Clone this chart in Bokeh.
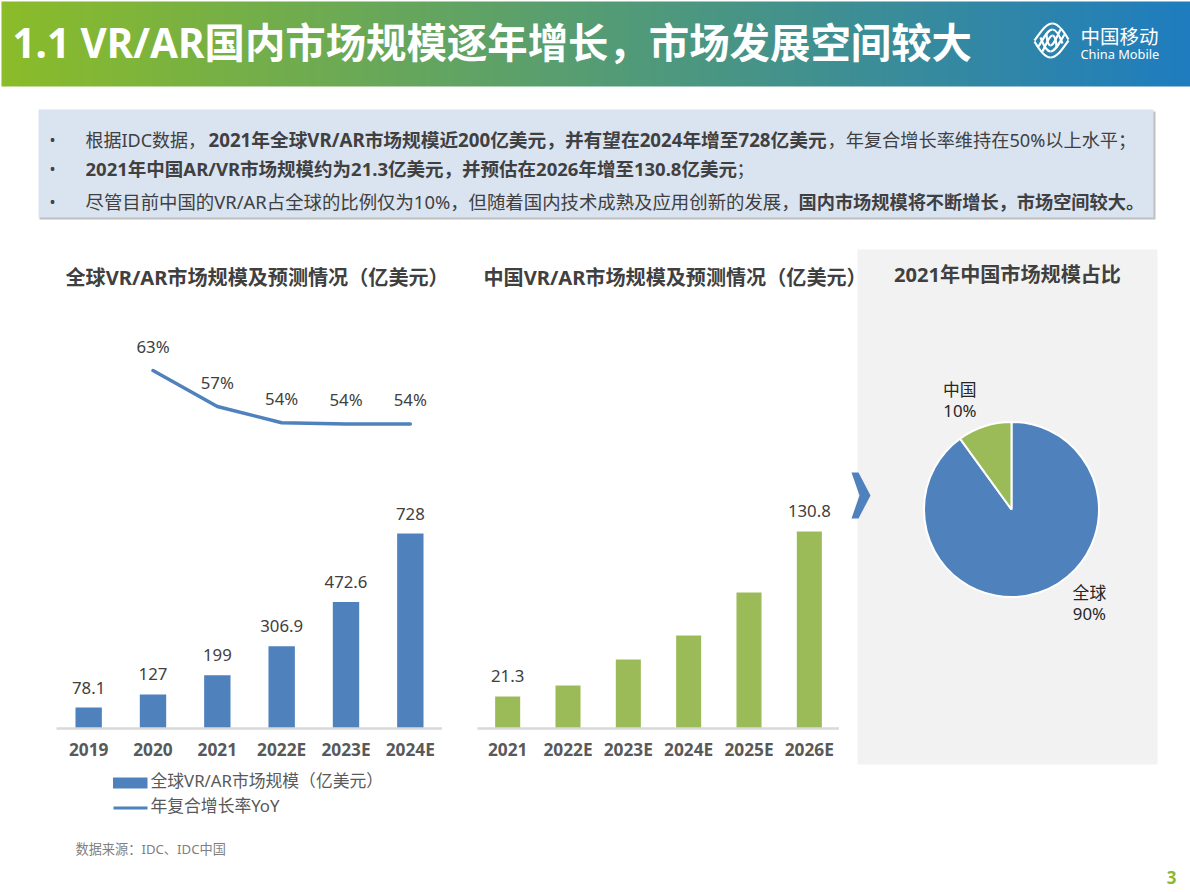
from bokeh.core.properties import value
from bokeh.embed import file_html
from bokeh.layouts import column
from bokeh.models import ColumnDataSource, FactorRange, Range1d
from bokeh.plotting import figure
from bokeh.resources import INLINE
import numpy as np

FONT = "Noto Sans, Noto Sans CJK SC"
BLUE = "#4F81BD"
GREEN = "#9BBB59"
DARK = "#404040"

# global market
global_years = ["2019", "2020", "2021", "2022E", "2023E", "2024E"]
global_size = [78.1, 127, 199, 306.9, 472.6, 728]
global_labels = ["78.1", "127", "199", "306.9", "472.6", "728"]
yoy_years = ["2020", "2021", "2022E", "2023E", "2024E"]
yoy_pct = [63, 57, 54.3, 54.1, 54.1]
yoy_labels = ["63%", "57%", "54%", "54%", "54%"]

# china market, only first and last bars are labelled
china_years = ["2021", "2022E", "2023E", "2024E", "2025E", "2026E"]
china_size = [21.3, 28.6, 45.8, 61.8, 90.3, 130.8]
china_labels = ["21.3", "", "", "", "", "130.8"]

# share
share_names = ["全球", "中国"]
share_values = [90, 10]


def place(fig, left, top):
    fig.styles = {"position": "absolute", "left": f"{left}px", "top": f"{top}px"}
    return fig


def clean(fig):
    fig.outline_line_color = None
    fig.background_fill_color = None
    fig.border_fill_color = None
    fig.min_border = 0
    fig.grid.visible = False


# page background drawn in pixel coordinates
bg = figure(width=1190, height=892, x_range=Range1d(0, 1190), y_range=Range1d(892, 0),
            output_backend="svg", toolbar_location=None, tools="", x_axis_location=None, y_axis_location=None)
clean(bg)
bg.border_fill_color = "white"
bg.background_fill_color = "white"

stops = np.linspace(0, 1, 300)
grad = np.zeros((1, 300, 4), dtype=np.uint8)
grad[0, :, 0] = 0x8B + (0x1F - 0x8B) * stops
grad[0, :, 1] = 0xBC + (0x7D - 0xBC) * stops
grad[0, :, 2] = 0x2A + (0xBF - 0x2A) * stops
grad[0, :, 3] = 255
bg.image_rgba(image=[grad.view(np.uint32).reshape(1, 300)], x=1, y=1, dw=1189, dh=85)


def txt(x, y, s, size, color=DARK, bold=False, align="left"):
    bg.text([x], [y], text=[s], text_font=value(FONT), text_font_size=f"{size}px", text_color=color,
            text_font_style="bold" if bold else "normal", text_align=align, text_baseline="middle")


txt(12, 42, "1.1 VR/AR国内市场规模逐年增长，市场发展空间较大", 40.4, "white", True)

# logo: nested hooks, each one again turned by 180 degrees around the centre
hooks = [(1034, 40, 1040, 32, 1045, 23, 1052, 23), (1052, 23, 1058, 23, 1064, 32, 1068, 39),
         (1038, 46, 1043, 38, 1047, 29, 1052, 29), (1052, 29, 1056, 29, 1059, 35, 1062, 43),
         (1042, 51, 1046, 43, 1049, 35, 1052, 35), (1052, 35, 1054, 35, 1056, 40, 1056, 47)]
for x0, y0, cx0, cy0, cx1, cy1, x1, y1 in hooks:
    bg.bezier([x0], [y0], [x1], [y1], [cx0], [cy0], [cx1], [cy1], line_color="white", line_width=2.2)
    bg.bezier([2102 - x0], [80 - y0], [2102 - x1], [80 - y1], [2102 - cx0], [80 - cy0], [2102 - cx1], [80 - cy1],
              line_color="white", line_width=2.2)
txt(1080, 36, "中国移动", 19.5, "white")
txt(1080, 53, "China Mobile", 12.8, "white")

# callout box
bg.quad(left=[39], right=[1155], top=[111], bottom=[219], fill_color="#BFBFBF", line_color=None)
bg.quad(left=[38], right=[1153], top=[109], bottom=[217], fill_color="#DAE3F0", line_color=None)
for yy in (139, 168, 201):
    txt(52, yy, "•", 16, align="center")
txt(85, 139, "根据IDC数据，", 18)
txt(208, 139, "2021年全球VR/AR市场规模近200亿美元，并有望在2024年增至728亿美元", 18.7, bold=True)
txt(827, 139, "，年复合增长率维持在50%以上水平；", 18.2)
txt(85, 168, "2021年中国AR/VR市场规模约为21.3亿美元，并预估在2026年增至130.8亿美元", 18.5, bold=True)
txt(736, 168, "；", 18)
txt(85, 201, "尽管目前中国的VR/AR占全球的比例仅为10%，但随着国内技术成熟及应用创新的发展，", 18.4)
txt(798, 201, "国内市场规模将不断增长，市场空间较大。", 18.2, bold=True)

txt(65, 277, "全球VR/AR市场规模及预测情况（亿美元）", 20.1, bold=True)
txt(483, 277, "中国VR/AR市场规模及预测情况（亿美元）", 20.1, bold=True)

bg.quad(left=[857], right=[1157], top=[249], bottom=[764], fill_color="#F2F2F2", line_color=None)
txt(1007, 274, "2021年中国市场规模占比", 20.1, bold=True, align="center")
bg.patch([851, 858, 870, 858, 851, 859], [472, 472, 495, 518, 518, 495], fill_color=BLUE, line_color=None)

# legend of the global chart
bg.quad(left=[112.5], right=[147], top=[777], bottom=[788], fill_color=BLUE, line_color=None)
bg.line([113, 147], [807.5, 807.5], line_color=BLUE, line_width=3)
txt(150, 780, "全球VR/AR市场规模（亿美元）", 16.8, "#595959")
txt(150, 805, "年复合增长率YoY", 16.8, "#595959")

txt(75, 848, "数据来源：IDC、IDC中国", 13.2, "#7F7F7F")
txt(1171, 877, "3", 17, "#8AB92D", True, "center")


def bar_chart(years, values, labels, ymax, color, left, width, bar_w):
    p = figure(x_range=FactorRange(factors=years), y_range=Range1d(0, ymax), frame_width=width, frame_height=399,
               width=width, height=440, output_backend="svg", toolbar_location=None, tools="", y_axis_location=None)
    clean(p)
    src = ColumnDataSource(dict(x=years, top=values, label=labels))
    p.vbar(x="x", top="top", width=bar_w, source=src, fill_color=color, line_color=None)
    p.text(x="x", y="top", text="label", source=src, y_offset=-20, text_align="center", text_baseline="middle",
           text_font=value(FONT), text_font_size="16.8px", text_color=DARK)
    ax = p.xaxis[0]
    ax.axis_line_color = "#D9D9D9"
    ax.axis_line_width = 2.5
    ax.major_tick_line_color = None
    ax.minor_tick_line_color = None
    ax.major_label_standoff = 3
    ax.major_label_text_font = FONT
    ax.major_label_text_font_size = "17.3px"
    ax.major_label_text_font_style = "bold"
    ax.major_label_text_color = "#595959"
    return place(p, left, 329)


p1 = bar_chart(global_years, global_size, global_labels, 1490, BLUE, 56, 386, 0.41)
p1.extra_y_ranges = {"yoy": Range1d(3.33, 69.83)}
yoy_src = ColumnDataSource(dict(x=yoy_years, y=yoy_pct, label=yoy_labels))
p1.line(x="x", y="y", source=yoy_src, y_range_name="yoy", line_color=BLUE, line_width=3.5, line_cap="round")
p1.text(x="x", y="y", text="label", source=yoy_src, y_range_name="yoy", y_offset=-24, text_align="center",
        text_baseline="middle", text_font=value(FONT), text_font_size="16.8px", text_color=DARK)

p2 = bar_chart(china_years, china_size, china_labels, 264.8, GREEN, 477, 362, 0.415)

# pie, clockwise from 12 o'clock
fracs = np.array(share_values) / sum(share_values)
ends = np.cumsum(fracs) * 2 * np.pi
starts = ends - fracs * 2 * np.pi
pie = figure(x_range=Range1d(-1.714, 1.714), y_range=Range1d(-1.714, 1.714), width=300, height=300,
             output_backend="svg", toolbar_location=None, tools="", x_axis_location=None, y_axis_location=None)
clean(pie)
pie.wedge(x=0, y=0, radius=1, start_angle=np.pi / 2 - starts, end_angle=np.pi / 2 - ends, direction="clock",
          fill_color=[BLUE, GREEN], line_color="white", line_width=2)
pie_labels = [f"{n}\n{v}%" for n, v in zip(share_names, share_values)]
pie.text(x=[0.89, -0.59], y=[-1.07, 1.25], text=pie_labels, text_align="center", text_baseline="middle",
         text_font=value(FONT), text_font_size="16.8px", text_color="#262626", text_line_height=0.9)
place(pie, 861, 359)

p = column(children=[place(bg, 0, 0), p1, p2, pie], width=1190, height=892,
           styles={"position": "absolute", "left": "0px", "top": "0px"})

open("out.html", "w").write(file_html(p, INLINE))
